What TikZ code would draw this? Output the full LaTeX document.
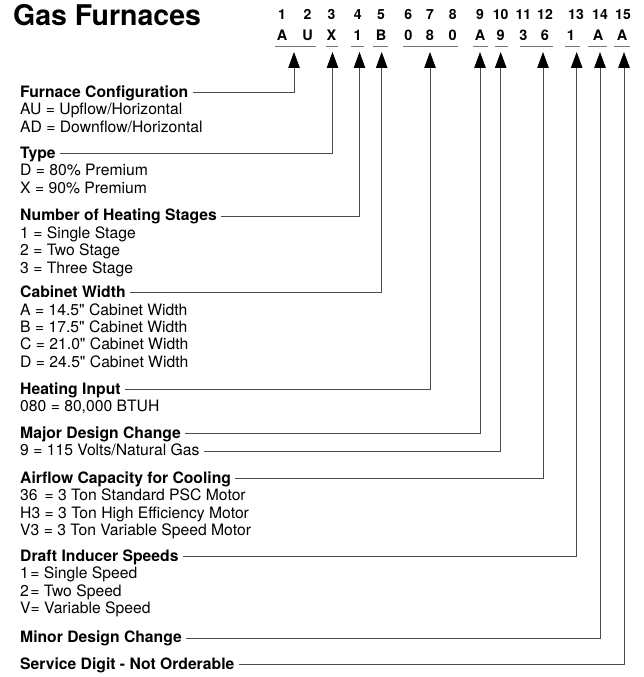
\documentclass[tikz,border=0pt]{standalone}
\usepackage{fontspec}
\setmainfont{TeX Gyre Heros}
\usetikzlibrary{arrows.meta,positioning}

\begin{document}
\begin{tikzpicture}[x=1pt,y=1pt]
\tikzset{head/.style = {font=\fontsize{15.7}{17.3}\selectfont\bfseries, inner sep=0pt, anchor=base west}}
\tikzset{txt/.style = {font=\fontsize{15.7}{17.3}\selectfont, inner sep=0pt, anchor=north west, align=left}}
\tikzset{digit/.style = {font=\fontsize{14}{16}\selectfont\bfseries, inner sep=0pt, anchor=base}}
\tikzset{conn/.style = {draw=black!70, line width=0.9pt, -{Triangle[width=11.5pt,length=16pt,color=black]}}}
\tikzset{uline/.style = {draw=black!55, line width=1.2pt}}
\useasboundingbox (0,0) rectangle (643,-677);

\node[font=\fontsize{28.5}{31}\selectfont\bfseries, inner sep=0pt, anchor=base west] (title) at (13,-26) {Gas Furnaces};

% position numbers and the model code
\foreach \x/\n in {282/1, 307.5/2, 331.5/3, 357.7/4, 381/5, 408.3/6, 430/7, 452.7/8,
                   480/9, 500.7/10, 523.3/11, 545/12, 576/13, 600/14, 623/15}
    \node[digit] (n\n) at (\x,-20) {\n};
\foreach \x/\c [count=\i] in {282/A, 307.5/U, 331.5/X, 357.7/1, 381/B, 408.3/0, 430/8, 452.7/0,
                   480/A, 500.7/9, 523.3/3, 545/6, 571/1, 598/A, 622/A}
    \node[digit, font=\fontsize{14.5}{16}\selectfont\bfseries] (c\i) at (\x,-40.5) {\c};

\draw[uline] (275,-46.7) -- (316,-46.7);
\draw[uline] (326,-46.7) -- (338,-46.7);
\draw[uline] (351,-46.7) -- (364,-46.7);
\draw[uline] (373,-46.7) -- (388,-46.7);
\draw[uline] (403,-46.7) -- (458,-46.7);
\draw[uline] (473,-46.7) -- (488,-46.7);
\draw[uline] (495,-46.7) -- (508,-46.7);
\draw[uline] (520,-46.7) -- (553,-46.7);
\draw[uline] (565,-46.7) -- (580,-46.7);
\draw[uline] (588,-46.7) -- (607,-46.7);
\draw[uline] (614,-46.7) -- (630,-46.7);

% arrow tips under the code groups
\foreach \x [count=\i] in {294, 332.5, 359.5, 381.7, 430, 480, 500.7, 543, 576.7, 600, 624}
    \coordinate (a\i) at (\x,-52);

% descriptions
\node[head] (h1) at (20,-97.3) {Furnace Configuration};
\node[txt] (i1) at ([yshift=-6]h1.base west) {AU = Upflow/Horizontal\\AD = Downflow/Horizontal};

\node[head] (h2) at (20,-158.3) {Type};
\node[txt] (i2) at ([yshift=-6]h2.base west) {D = 80\% Premium\\X = 90\% Premium};

\node[head] (h3) at (20,-220.6) {Number of Heating Stages};
\node[txt] (i3) at ([yshift=-6]h3.base west) {1 = Single Stage\\2 = Two Stage\\3 = Three Stage};

\node[head] (h4) at (20,-297.3) {Cabinet Width};
\node[txt] (i4) at ([yshift=-6]h4.base west) {A = 14.5\textquotedbl{} Cabinet Width\\B = 17.5\textquotedbl{} Cabinet Width\\C = 21.0\textquotedbl{} Cabinet Width\\D = 24.5\textquotedbl{} Cabinet Width};

\node[head] (h5) at (20,-394) {Heating Input};
\node[txt] (i5) at ([yshift=-6]h5.base west) {080 = 80,000 BTUH};

\node[head] (h6) at (20,-438.3) {Major Design Change};
\node[head, font=\fontsize{15.7}{17.3}\selectfont] (i6) at (20,-455.6) {9 = 115 Volts/Natural Gas};

\node[head] (h7) at (20,-483) {Airflow Capacity for Cooling};
\node[txt] (i7) at ([yshift=-6]h7.base west) {36\kern2.6pt\ = 3 Ton Standard PSC Motor\\H3 = 3 Ton High Efficiency Motor\\V3 = 3 Ton Variable Speed Motor};

\node[head] (h8) at (20,-561) {Draft Inducer Speeds};
\node[txt] (i8) at ([yshift=-6]h8.base west) {1\kern1.5pt= Single Speed\\2\kern1.5pt= Two Speed\\V= Variable Speed};

\node[head] (h9) at (20,-642.8) {Minor Design Change};
\node[head] (h10) at (20,-669) {Service Digit - Not Orderable};

% connectors
\draw[conn] ([shift={(5,4.5)}]h1.base east) -| (a1);
\draw[conn] ([shift={(4,4.5)}]h2.base east) -| (a2);
\draw[conn] ([shift={(4,4.5)}]h3.base east) -| (a3);
\draw[conn] ([shift={(4,4.5)}]h4.base east) -| (a4);
\draw[conn] ([shift={(4,4.5)}]h5.base east) -| (a5);
\draw[conn] ([shift={(4,4.5)}]h6.base east) -| (a6);
\draw[conn] ([shift={(4,4.5)}]i6.base east) -| (a7);
\draw[conn] ([shift={(4,4.5)}]h7.base east) -| (a8);
\draw[conn] ([shift={(4,4.5)}]h8.base east) -| (a9);
\draw[conn] ([shift={(4,4.5)}]h9.base east) -| (a10);
\draw[conn] ([shift={(4,4.5)}]h10.base east) -| (a11);
\end{tikzpicture}
\end{document}
